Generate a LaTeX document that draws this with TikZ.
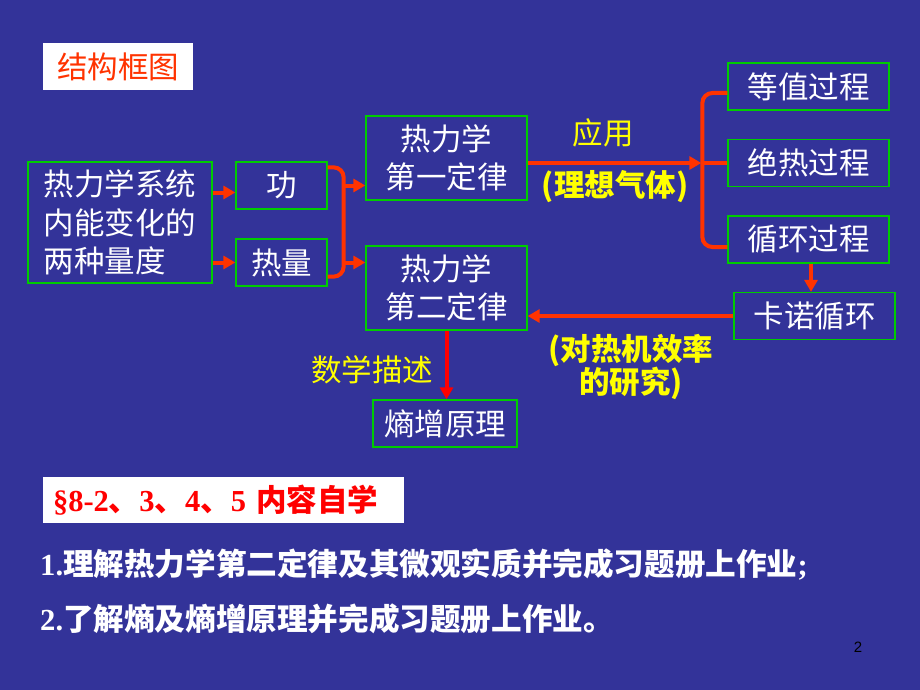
\documentclass[tikz,border=0pt]{standalone}
\usepackage{fontspec}
\usetikzlibrary{arrows.meta,calc}
\newfontfamily\cjk{Noto Sans CJK SC}
\newfontfamily\serf{Liberation Serif Bold}
\newfontfamily\arial{Liberation Sans}
\definecolor{bg}{RGB}{51,51,153}
\definecolor{bgreen}{RGB}{0,204,0}
\definecolor{arrred}{RGB}{255,51,0}
\definecolor{ylw}{RGB}{255,255,0}
\definecolor{tred}{RGB}{255,51,0}
\definecolor{pred}{RGB}{255,0,0}
\begin{document}
\begin{tikzpicture}[x=1pt,y=-1pt,
  box/.style={draw=bgreen,line width=1.3pt,text=white,font=\cjk\fontsize{30.5}{38.5}\selectfont,inner sep=0pt,align=center},
  arr/.style={draw=arrred,line width=4pt,-{Triangle[length=12pt,width=13pt]}},
  brk/.style={draw=arrred,line width=4pt,rounded corners=10pt},
  lbl/.style={text=ylw,font=\cjk\fontsize{30.5}{33}\selectfont,inner sep=0pt,align=center},
  lblb/.style={text=ylw,font=\cjk\bfseries\fontsize{30.5}{33}\selectfont,inner sep=0pt,align=center},
  btxt/.style={text=white,font=\cjk\bfseries\fontsize{30.6}{36}\selectfont,inner sep=0pt,anchor=west}]
\fill[bg] (0,0) rectangle (920,690);
\useasboundingbox (0,0) rectangle (920,690);

% title
\node[fill=white,minimum width=150pt,minimum height=47pt,inner sep=0pt,text=tred,font=\cjk\fontsize{30.5}{36}\selectfont] (title) at (118,66.5) {结构框图};

% boxes
\node[box,minimum width=184pt,minimum height=121pt,align=left] (sys) at (120,222.5) {热力学系统\\内能变化的\\两种量度};
\node[box,minimum width=91pt,minimum height=47pt] (gong) at (281.5,185.5) {功};
\node[box,minimum width=91pt,minimum height=47pt] (rl) at (281.5,262.5) {热量};
\node[box,minimum width=161pt,minimum height=84pt] (first) at (446.5,158) {热力学\\第一定律};
\node[box,minimum width=161pt,minimum height=84pt] (second) at (446.5,288) {热力学\\第二定律};
\node[box,minimum width=161pt,minimum height=47pt] (dz) at (808.5,86.5) {等值过程};
\node[box,minimum width=161pt,minimum height=47pt] (jr) at (808.5,163) {绝热过程};
\node[box,minimum width=161pt,minimum height=47pt] (xh) at (808.5,239.5) {循环过程};
\node[box,minimum width=161pt,minimum height=47pt] (kn) at (814.5,316) {卡诺循环};
\node[box,minimum width=144pt,minimum height=47pt] (sz) at (445,423.5) {熵增原理};

% connectors left
\draw[arr] ($(sys.east |- gong.east)+(0,7)$) -- ($(gong.west)+(0,7)$);
\draw[arr] (sys.east |- rl.west) -- (rl.west);
\coordinate (bx) at ($(gong.east)!0.5!(rl.east)+(16,0)$);
\draw[brk] ($(gong.north east)+(0,6)$) -| (bx) |- ($(rl.south east)+(0,-10)$);
\draw[arr] (bx |- gong.east) -- (first.west |- gong.east);
\draw[arr] (bx |- rl.east) -- (second.west |- rl.east);

% connectors right
\coordinate (bx2) at ($(jr.west)+(-25,0)$);
\draw[brk] ($(dz.west)+(0,6.5)$) -| (bx2) |- ($(xh.west)+(0,7.5)$);
\draw[brk] (bx2) -- (jr.west);
\draw[arr] (first.east |- jr.west) -- ($(bx2)+(-1,0)$);
\draw[arr] ($(xh.south)+(2.5,0)$) -- ($(kn.north)+(-3.5,0)$);
\draw[arr] (kn.west) -- (second.east |- kn.west);
\draw[arr,draw=pred] (second.south) -- (second.south |- sz.north);

% labels
\node[lbl] (yy) at (603,133) {应用};
\node[lblb] (lx) at (615,187) {(理想气体)};
\node[lbl] (sx) at (372,370) {数学描述};
\node[lblb] (rj) at (631,367) {(对热机效率\\的研究)};

% section box
\node[fill=white,minimum width=361pt,minimum height=46pt,inner sep=0pt,text width=341pt,align=left,text=pred,font=\cjk\bfseries\fontsize{30.5}{36}\selectfont] (sec) at (223.5,500) {{\serf §8-2}、{\serf 3}、{\serf 4}、{\serf 5} 内容自学};

% bottom text
\node[btxt] (l1) at (40,565) {{\serf 1.}理解热力学第二定律及其微观实质并完成习题册上作业{\serf ;}};
\node[btxt] (l2) at (40,619) {{\serf 2.}了解熵及熵增原理并完成习题册上作业。};

\node[text=black,inner sep=0pt,font=\arial\fontsize{15}{15}\selectfont] (pg) at (858,647) {2};
\end{tikzpicture}
\end{document}
